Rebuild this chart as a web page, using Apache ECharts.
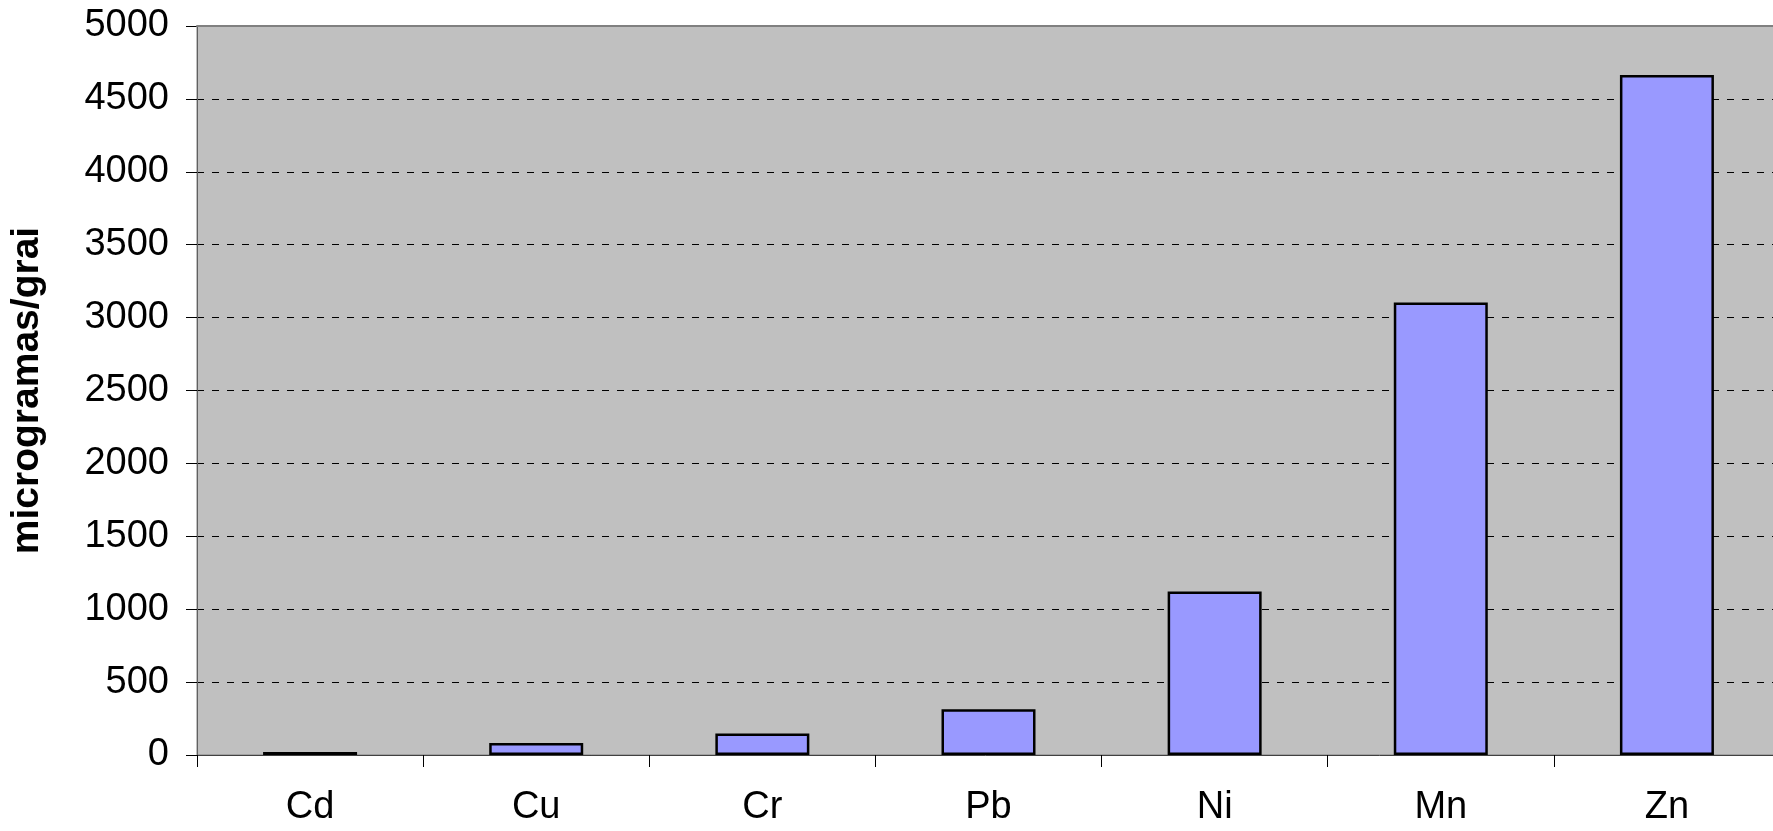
<!DOCTYPE html>
<html>
<head>
<meta charset="utf-8">
<script src="https://cdn.jsdelivr.net/npm/echarts@6/dist/echarts.min.js"></script>
<style>
html, body { margin: 0; padding: 0; background: #fff; }
#chart { width: 1773px; height: 831px; }
</style>
</head>
<body>
<div id="chart"></div>
<script>
var categories = ['Cd', 'Cu', 'Cr', 'Pb', 'Ni', 'Mn', 'Zn'];
var values = [20, 83, 148, 313, 1122, 3103, 4664];
var yName = 'microgramas/grai';

var chart = echarts.init(document.getElementById('chart'));
var font = 'Liberation Sans, Arial, sans-serif';

chart.setOption({
	animation: false,
	grid: {
		left: 197,
		width: 1583,
		top: 26,
		bottom: 76,
		outerBoundsMode: 'none',
		show: true,
		backgroundColor: '#c0c0c0',
		borderColor: '#808080',
		borderWidth: 1
	},
	xAxis: [{
		type: 'category',
		data: categories,
		axisLine: { lineStyle: { color: '#404040', width: 1 } },
		axisTick: { show: true, length: 12, lineStyle: { color: '#000' } },
		axisLabel: { color: '#000', fontSize: 38, fontFamily: font, margin: 34 }
	}, {
		// solid top frame line over the 5000 grid line
		type: 'category',
		data: categories,
		position: 'top',
		z: 3,
		axisLine: { show: true, lineStyle: { color: '#808080', width: 2 } },
		axisTick: { show: false },
		axisLabel: { show: false },
		splitLine: { show: false }
	}],
	yAxis: {
		type: 'value',
		min: 0,
		max: 5000,
		interval: 500,
		name: yName,
		nameLocation: 'middle',
		nameGap: 150,
		nameTextStyle: { color: '#000', fontSize: 39, fontWeight: 'bold', fontFamily: font },
		axisLine: { show: true, lineStyle: { color: '#606060', width: 1 } },
		axisTick: { show: true, length: 11, lineStyle: { color: '#000' } },
		axisLabel: {
			color: '#000', fontSize: 38, fontFamily: font, margin: 28,
			formatter: function (v) { return String(v); }
		},
		splitLine: { show: true, lineStyle: { color: '#000', type: [7, 8], width: 1 } }
	},
	series: [{
		type: 'bar',
		data: values,
		barWidth: 94,
		itemStyle: { color: '#9999ff', borderColor: '#000', borderWidth: 2.5 }
	}]
});
</script>
</body>
</html>
